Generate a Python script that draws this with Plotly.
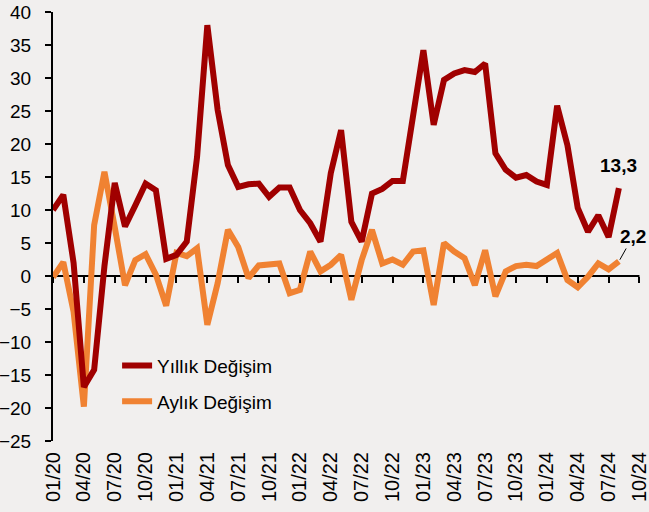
import plotly.graph_objects as go

months = list(range(56))
tick_vals = list(range(0, 58, 3))
tick_text = ["01/20", "04/20", "07/20", "10/20", "01/21", "04/21", "07/21", "10/21",
             "01/22", "04/22", "07/22", "10/22", "01/23", "04/23", "07/23", "10/23",
             "01/24", "04/24", "07/24", "10/24"]

yillik = [10.0, 12.3, 2.0, -16.8, -14.2, 1.5, 14.1, 7.5, 10.7, 14.0,
          13.0, 2.6, 3.2, 5.2, 18.0, 38.0, 25.2, 16.8, 13.5, 13.9,
          14.0, 12.0, 13.4, 13.4, 10.0, 8.0, 5.2, 15.6, 22.1, 8.2,
          5.2, 12.5, 13.2, 14.4, 14.4, 24.0, 34.2, 22.9, 29.7, 30.7,
          31.2, 30.9, 32.2, 18.6, 16.1, 14.9, 15.3, 14.3, 13.8, 25.8,
          19.8, 10.3, 6.7, 9.2, 5.9, 13.3]
aylik = [-0.2, 2.1, -5.4, -19.8, 7.7, 15.8, 7.4, -1.4, 2.4, 3.3,
         0.2, -4.5, 3.5, 3.0, 4.2, -7.4, -1.1, 7.0, 4.4, -0.3,
         1.6, 1.7, 1.9, -2.6, -2.1, 3.7, 0.7, 1.7, 3.2, -3.6,
         2.4, 7.0, 1.9, 2.5, 1.7, 3.7, 3.9, -4.4, 5.0, 3.7,
         2.7, -1.4, 3.9, -3.1, 0.7, 1.5, 1.7, 1.5, 2.4, 3.5,
         -0.6, -1.7, -0.1, 1.9, 1.0, 2.2]

names = ["Yıllık Değişim", "Aylık Değişim"]
colors = ["#A00000", "#F08232"]
font = "Liberation Sans, Arial, sans-serif"
bg = "#F1EFEE"
x_range = [0, 57.15]

fig = go.Figure()
# zero-crossing axis line spanning the tick range (drawn beneath the series)
fig.add_trace(go.Scatter(x=[tick_vals[0], tick_vals[-1]], y=[0, 0], mode="lines",
                         line=dict(color="black", width=2), showlegend=False,
                         hoverinfo="skip"))
fig.add_trace(go.Scatter(x=months, y=aylik, mode="lines", name=names[1],
                         line=dict(color=colors[1], width=6), legendrank=2,
                         legendgroup="b"))
fig.add_trace(go.Scatter(x=months, y=yillik, mode="lines", name=names[0],
                         line=dict(color=colors[0], width=6), legendrank=1,
                         legendgroup="a"))
# dummy trace to render tick marks of the zero-crossing axis
fig.add_trace(go.Scatter(x=[0, 57], y=[0, 0], xaxis="x2", mode="lines",
                         line=dict(width=0), showlegend=False, hoverinfo="skip"))

fig.add_annotation(x=months[-1], y=yillik[-1], text="<b>13,3</b>", showarrow=False,
                   yanchor="bottom", yshift=10, font=dict(size=19, color="black", family=font))
fig.add_annotation(x=months[-1], y=aylik[-1], text="<b>2,2</b>", showarrow=True,
                   arrowhead=0, arrowwidth=1, arrowcolor="black", ax=14, ay=-25,
                   standoff=2, font=dict(size=19, color="black", family=font))

fig.update_layout(
    width=649, height=512,
    margin=dict(l=53, r=8, t=12, b=71, autoexpand=False),
    paper_bgcolor=bg, plot_bgcolor=bg,
    font=dict(family=font, size=19, color="black"),
    showlegend=True,
    legend=dict(x=0.109, y=0.22, xanchor="left", yanchor="top",
                bgcolor="rgba(0,0,0,0)", font=dict(size=19),
                tracegroupgap=8),
    xaxis=dict(range=x_range, tickvals=tick_vals, ticktext=tick_text,
               tickangle=-90, showgrid=False, zeroline=False, showline=False,
               ticks="", tickfont=dict(size=20), automargin=False,
               ticklabeloverflow="allow", ticklabelstandoff=6),
    xaxis2=dict(range=x_range, overlaying="x", anchor="free", position=25/65,
                side="bottom", tickvals=tick_vals, showticklabels=False,
                showline=False, ticks="outside", ticklen=6, tickwidth=2,
                tickcolor="black", showgrid=False, zeroline=False,
                automargin=False),
    yaxis=dict(range=[-25, 40], dtick=5, showgrid=False, zeroline=False,
               showline=True, linecolor="black", linewidth=2,
               ticks="outside", ticklen=6, tickwidth=2, tickcolor="black",
               tickfont=dict(size=19), automargin=False, ticklabelstandoff=10),
)

fig.write_html(
    "out.html",
    config={"displayModeBar": False},
    post_script="document.body.style.margin='0';"
                "document.body.style.overflow='hidden';"
                "document.body.style.background='#F1EFEE';",
)
